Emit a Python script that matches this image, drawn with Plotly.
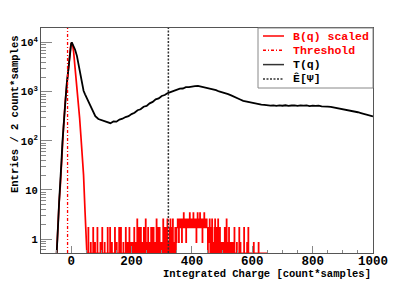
import plotly.graph_objects as go

# ---------------- data ----------------
# T(q): total charge spectrum (entries per 2 count*samples)
q_T = [-48, -46, -43, -40, -36, -32, -29, -25, -20, -15, -9, -5, -2, 0, 2, 5, 8, 13, 19, 24,
       30, 35, 41, 46, 52, 57, 63, 68, 74,
       80, 90, 100, 110, 120, 130, 140, 150, 160, 170, 180, 190, 200, 210, 220, 230, 240, 250,
       260, 270, 280, 290, 300, 310, 320, 330, 340, 350, 360, 370, 380, 390, 400, 410, 420, 430,
       440, 450, 460, 470, 480, 490, 500, 510, 520, 530, 540, 550, 560, 570, 580, 590, 600, 610,
       620, 630, 640, 650, 660, 670, 680, 690, 700, 710, 720, 730, 740, 750, 760, 770, 780, 790,
       800, 810, 820, 830, 840, 850, 860, 870, 880, 890, 900, 910, 920, 930, 940, 950, 960, 970,
       980, 990, 1000]
T_counts = [0, 1.6, 2.2, 5.6, 12.6, 40, 95, 220, 630, 1400, 3000, 5600, 8300, 9600, 10200, 9300, 8200, 7200, 5400, 3800,
            2300, 1480, 1050, 890, 740, 630, 525, 440, 355,
            318, 279, 266, 247, 243, 229, 248, 246, 272, 283, 306, 318, 352, 374, 421, 440, 497, 516,
            582, 622, 700, 731, 822, 860, 942, 990, 1058, 1085, 1160, 1168, 1240, 1250, 1298, 1310, 1325, 1280,
            1268, 1195, 1182, 1115, 1080, 1015, 985, 925, 898, 843, 800, 735, 698, 655, 636, 598, 592, 570,
            566, 548, 540, 528, 522, 530, 515, 528, 520, 532, 518, 526, 530, 515, 528, 522, 530, 512,
            524, 515, 520, 505, 510, 498, 495, 482, 470, 462, 448, 440, 425, 410, 395, 383, 368, 356,
            345, 330, 316]

# B(q) scaled: pedestal peak
q_B = [-48, -46, -43, -40, -36, -32, -29, -25, -20, -15, -9, -5, -2, 0, 2, 5, 8, 13, 18, 24,
       28, 32, 36, 41, 46, 50, 52]
B_peak = [0, 1.2, 2.2, 5.5, 12, 38, 90, 210, 600, 1350, 2900, 5400, 8200, 9500, 10000, 8800, 6600, 3000, 1480, 630,
          290, 130, 56, 20, 3.5, 0.9, 0]

# B(q) tail: raw counts per 2-unit bin starting at q = 52, scaled by B_SCALE
B_tail_start = 52
B_bin_width = 2
B_SCALE = 0.85
B_tail_counts = [
    0, 0, 2, 0, 0, 0, 1, 0, 0, 0, 2, 0, 0, 1, 0, 0, 0, 2, 0, 0, 0, 0, 1, 0,
    0, 2, 0, 0, 0, 1, 0, 0, 0, 0, 2, 0, 0, 0, 2, 0, 0, 1, 0, 0, 0, 0, 2, 0, 0,
    1, 0, 0, 0, 2, 0, 0, 2, 0, 0, 0, 1, 0, 0, 0, 2, 0, 0, 1, 0, 0, 2, 0, 0, 1,
    0, 1, 0, 0, 2, 0, 1, 0, 0, 3, 0, 0, 2, 0, 0, 2, 0, 1, 0, 0, 2, 0, 0, 3, 0,
    1, 0, 2, 0, 1, 0, 0, 2, 0, 2, 0, 2, 0, 0, 1, 0, 3, 0, 2, 0, 0, 2, 0, 1, 0,
    1, 0, 3, 0, 2, 0, 1, 2, 0, 3, 0, 1, 0, 2, 3, 0, 2, 0, 3, 0, 1, 0, 2, 0, 1,
    2, 3, 2, 1, 3, 2, 2, 3, 1, 2, 3, 4, 2, 3, 2, 1, 3, 2, 3, 3, 2, 4, 3, 2, 3,
    3, 2, 4, 3, 2, 3, 3, 1, 3, 4, 2, 3, 2, 4, 3, 2, 3, 1, 3, 2, 4, 3, 2, 2, 3,
    2, 0, 1, 2, 3, 0, 2, 0, 3, 1, 0, 0, 2, 3, 0, 2, 0, 1, 3, 0, 0, 2, 0, 1, 0,
    1, 0, 0, 1, 2, 0, 0, 3, 0, 1, 0, 2, 0, 0, 1, 0, 0, 1, 0, 0, 2, 0, 0, 0, 1,
    0, 0, 0, 2, 0, 1, 0, 0, 0, 0, 0, 2, 0, 0, 0, 0, 1, 0, 2, 0, 0, 0, 0, 0, 0,
    0, 0, 1, 0, 0, 0, 0, 0, 0, 0, 1, 0, 0, 0, 0, 0, 0, 0, 0, 0, 0, 0, 0, 0, 0,
]

threshold_q = -12
E_psi_q = 322

x_range = [-100, 1000]
y_tickvals = [1, 10, 100, 1000, 10000]
y_ticktext = ["1", "10", "10<sup>2</sup>", "10<sup>3</sup>", "10<sup>4</sup>"]

legend_labels = ["B(q) scaled", "Threshold", "T(q)", "Ê[Ψ]"]

# ---------------- style ----------------
FONT = "Liberation Mono"
Y_LOG_MIN, Y_LOG_MAX = -0.285, 4.3
FLOOR = 10 ** Y_LOG_MIN
RED = "#ff0000"

# page body has an 8px margin; figure sized so it fills the 415x282 window
OFF = 8
W, H = 415 - OFF, 282 - OFF
PLOT_L, PLOT_R, PLOT_T, PLOT_B = 41, 373, 28, 253   # window pixels
ML, MT = PLOT_L - OFF, PLOT_T - OFF
MR = W + OFF - PLOT_R
MB = H + OFF - PLOT_B
PW, PH = PLOT_R - PLOT_L, PLOT_B - PLOT_T


def lift(vals):
    return [v if v > 0 else FLOOR for v in vals]


def px(xp):
    return (xp - PLOT_L) / PW


def py(yp):
    return (PLOT_B - yp) / PH


fig = go.Figure()

# B(q) scaled: peak
fig.add_trace(go.Scatter(x=q_B, y=lift(B_peak), mode="lines",
                         line=dict(color=RED, width=1.7), showlegend=False))
# B(q) scaled: tail histogram (step)
edges = [B_tail_start + B_bin_width * i for i in range(len(B_tail_counts) + 1)]
tail_y = lift([c * B_SCALE for c in B_tail_counts]) + [FLOOR]
fig.add_trace(go.Scatter(x=edges, y=tail_y, mode="lines", line_shape="hv",
                         line=dict(color=RED, width=1.2), showlegend=False))
# T(q)
fig.add_trace(go.Scatter(x=q_T, y=lift(T_counts), mode="lines",
                         line=dict(color="black", width=1.8), showlegend=False))
# Threshold
fig.add_trace(go.Scatter(x=[threshold_q, threshold_q], y=[FLOOR, 10 ** Y_LOG_MAX], mode="lines",
                         line=dict(color=RED, width=1.3, dash="3px,2px,1px,2px"), showlegend=False))
# E[Psi]
fig.add_trace(go.Scatter(x=[E_psi_q, E_psi_q], y=[FLOOR, 10 ** Y_LOG_MAX], mode="lines",
                         line=dict(color="#333333", width=1.5, dash="2px,1.5px"), showlegend=False))

minor_y = [m * 10 ** k for k in range(-1, 5) for m in range(2, 10)]

fig.update_layout(
    width=W, height=H,
    margin=dict(l=ML, r=MR, t=MT, b=MB, pad=0, autoexpand=False),
    paper_bgcolor="white", plot_bgcolor="white",
    showlegend=False,
    xaxis=dict(range=x_range, tickmode="linear", tick0=0, dtick=200,
               ticks="inside", ticklen=7, tickcolor="#888888", tickwidth=1,
               ticklabelstandoff=-4,
               minor=dict(tickmode="linear", tick0=0, dtick=50, ticks="inside", ticklen=3.5,
                          tickcolor="#888888", showgrid=False),
               showgrid=False, zeroline=False, showline=True, mirror=True,
               linecolor="#555555", linewidth=1,
               tickfont=dict(family=FONT, size=12.5, color="black", weight="bold")),
    yaxis=dict(type="log", range=[Y_LOG_MIN, Y_LOG_MAX], tickmode="array",
               tickvals=y_tickvals, ticktext=y_ticktext,
               ticks="inside", ticklen=11, tickcolor="#888888", tickwidth=1,
               minor=dict(tickmode="array", tickvals=minor_y, ticks="inside", ticklen=5,
                          tickcolor="#888888", showgrid=False),
               showgrid=False, zeroline=False, showline=True, mirror=True,
               linecolor="#555555", linewidth=1,
               tickfont=dict(family=FONT, size=10.5, color="black", weight="bold")),
)

annotations = [
    dict(text="Integrated Charge [count*samples]", xref="paper", yref="paper",
         x=1, y=py(273.5), xanchor="right", yanchor="middle", showarrow=False,
         font=dict(family=FONT, size=10.5, color="black", weight="bold")),
    dict(text="Entries / 2 count*samples", xref="paper", yref="paper",
         x=px(15), y=py(33), xanchor="center", yanchor="top", textangle=-90, showarrow=False,
         font=dict(family=FONT, size=10.5, color="black", weight="bold")),
]

# legend (drawn manually)
leg_rows = [36, 50.3, 64.6, 78.9]
leg_line_colors = [RED, RED, "#333333", "#333333"]
leg_text_colors = [RED, RED, "black", "black"]
leg_dash = ["solid", "3px,2px,1px,2px", "solid", "2px,1.5px"]
shapes = [dict(type="rect", xref="paper", yref="paper", x0=px(258), x1=1, y0=py(88), y1=1,
               line=dict(color="#888888", width=1), fillcolor="white", layer="above")]
for i, lab in enumerate(legend_labels):
    shapes.append(dict(type="line", xref="paper", yref="paper", x0=px(263), x1=px(284),
                       y0=py(leg_rows[i]), y1=py(leg_rows[i]), layer="above",
                       line=dict(color=leg_line_colors[i], width=1.5, dash=leg_dash[i])))
    annotations.append(dict(text=lab, xref="paper", yref="paper", x=px(291), y=py(leg_rows[i]),
                            xanchor="left", yanchor="middle", showarrow=False,
                            font=dict(family=FONT, size=11.5, color=leg_text_colors[i],
                                      weight="bold")))

fig.update_layout(annotations=annotations, shapes=shapes)

fig.write_html("out.html")
